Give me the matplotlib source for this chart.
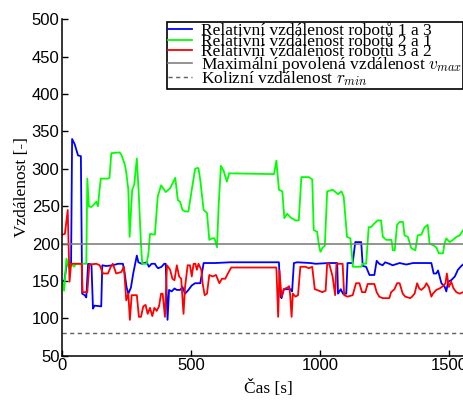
import numpy as np
import matplotlib
matplotlib.use("Agg")
import matplotlib.pyplot as plt

# values
t_13 = [0, 8, 17, 34, 38, 48, 61, 72, 77, 87, 93, 100, 113, 119, 125, 151, 155, 170,
        196, 216, 235, 242, 249, 256, 266, 275, 289, 295, 308, 327, 336, 346, 359,
        366, 372, 385, 395, 401, 408, 414, 424, 435, 444, 457, 466, 476, 489, 502,
        515, 535, 548, 593, 651, 840, 846, 850, 859, 885, 891, 898, 911, 962, 982,
        1034, 1048, 1066, 1069, 1080, 1088, 1101, 1106, 1126, 1136, 1159, 1165,
        1178, 1191, 1210, 1219, 1229, 1242, 1252, 1268, 1281, 1308, 1334, 1360,
        1431, 1440, 1450, 1457, 1470, 1483, 1489, 1496, 1508, 1522, 1534, 1547, 1560]
d_13 = [150, 150, 172, 172, 340, 333, 318, 317, 133, 131, 128, 173, 172, 113, 117, 116,
        171, 170, 171, 173, 173, 160, 142, 133, 141, 160, 184, 175, 173, 175, 169, 173,
        173, 169, 167, 169, 173, 173, 98, 138, 136, 140, 138, 138, 142, 133, 138, 144,
        147, 147, 174, 174, 175, 175, 129, 127, 139, 139, 136, 174, 175, 174, 173,
        174, 174, 174, 133, 139, 133, 133, 174, 174, 202, 202, 170, 169, 158, 158, 177,
        173, 171, 175, 173, 171, 174, 172, 174, 174, 160, 160, 164, 147, 142, 136, 149,
        151, 156, 165, 170, 174]

t_21 = [0, 7, 16, 28, 35, 45, 54, 93, 97, 103, 112, 119, 132, 138, 149, 177, 183, 190,
        222, 229, 243, 248, 256, 261, 271, 279, 289, 297, 305, 310, 327, 334, 340, 359,
        370, 383, 401, 418, 438, 448, 457, 466, 476, 489, 502, 515, 522, 528, 535, 548,
        561, 570, 580, 590, 600, 606, 615, 625, 638, 647, 821, 830, 840, 853, 861, 872,
        885, 904, 917, 927, 956, 969, 975, 988, 995, 1001, 1010, 1018, 1027, 1049,
        1069, 1082, 1091, 1104, 1117, 1127, 1159, 1165, 1178, 1188, 1197, 1210, 1223,
        1236, 1243, 1256, 1276, 1282, 1289, 1298, 1308, 1321, 1327, 1340, 1353, 1369,
        1378, 1392, 1405, 1417, 1424, 1437, 1450, 1460, 1476, 1482, 1489, 1502, 1515,
        1528, 1541, 1554, 1560]
d_21 = [150, 137, 180, 165, 173, 169, 173, 173, 287, 250, 249, 251, 256, 250, 287, 287,
        288, 321, 322, 319, 305, 295, 272, 209, 272, 279, 314, 263, 200, 173, 173, 187,
        213, 212, 263, 278, 269, 274, 288, 258, 256, 245, 243, 243, 272, 300, 301, 301,
        285, 245, 241, 205, 207, 207, 195, 250, 304, 298, 283, 294, 293, 311, 272, 270,
        234, 240, 235, 231, 231, 289, 289, 286, 218, 216, 198, 189, 195, 197, 270, 272,
        266, 270, 263, 209, 207, 169, 169, 173, 173, 222, 222, 227, 231, 231, 209, 205,
        205, 191, 191, 225, 229, 229, 211, 209, 194, 191, 211, 212, 222, 225, 200, 198,
        195, 187, 187, 200, 207, 202, 205, 209, 211, 218, 220]

t_32 = [0, 10, 21, 28, 34, 75, 79, 97, 105, 132, 145, 158, 177, 188, 196, 209, 229, 239,
        248, 256, 262, 269, 289, 297, 305, 314, 323, 331, 340, 349, 357, 366, 375, 383,
        389, 398, 406, 418, 427, 435, 444, 453, 461, 470, 476, 486, 495, 502, 509, 516,
        522, 528, 539, 544, 552, 561, 570, 583, 596, 609, 619, 632, 642, 655, 830, 837,
        842, 850, 859, 872, 880, 884, 889, 894, 904, 914, 923, 943, 956, 969, 979, 995,
        1008, 1021, 1027, 1035, 1048, 1058, 1063, 1087, 1093, 1106, 1126, 1139, 1152,
        1162, 1175, 1184, 1210, 1219, 1229, 1242, 1255, 1268, 1275, 1288, 1298, 1308,
        1320, 1330, 1349, 1356, 1366, 1376, 1384, 1392, 1405, 1412, 1421, 1431, 1437,
        1450, 1463, 1476, 1486, 1491, 1499, 1508, 1517, 1528, 1541, 1560]
d_32 = [212, 213, 245, 149, 173, 173, 135, 135, 172, 173, 171, 160, 160, 169, 173, 160,
        162, 169, 124, 133, 98, 131, 131, 102, 102, 116, 118, 106, 114, 103, 114, 110,
        116, 133, 133, 102, 171, 165, 153, 151, 171, 156, 153, 106, 142, 171, 171, 156,
        173, 173, 165, 173, 165, 147, 131, 133, 158, 156, 158, 147, 153, 153, 160, 168,
        168, 102, 164, 129, 139, 141, 143, 129, 102, 133, 129, 131, 169, 169, 167, 169,
        139, 137, 135, 137, 173, 173, 156, 131, 173, 173, 131, 129, 131, 147, 147, 135,
        135, 146, 146, 135, 129, 127, 127, 127, 135, 139, 147, 147, 133, 129, 127, 129,
        133, 147, 140, 138, 142, 147, 142, 129, 133, 138, 140, 143, 147, 160, 142, 149,
        140, 135, 133, 136]

v_max = 200
r_min = 80

labels = [
    "Relativní vzdálenost robotů 1 a 3",
    "Relativní vzdálenost robotů 2 a 1",
    "Relativní vzdálenost robotů 3 a 2",
    r"Maximální povolená vzdálenost $v_{max}$",
    r"Kolizní vzdálenost $r_{min}$",
]

plt.rcParams["mathtext.fontset"] = "cm"
serif = "Liberation Serif"

fig = plt.figure(figsize=(4.63, 4.01), dpi=100)
W, H = 463, 401
ax = fig.add_axes([62.3 / W, 1 - 355.7 / H, 1600 * 0.2579 / W, 336.3 / H])

ax.plot(t_13, d_13, color=(0, 0, 1), lw=1.3, label=labels[0])
ax.plot(t_21, d_21, color=(0, 1, 0), lw=1.3, label=labels[1])
ax.plot(t_32, d_32, color=(1, 0, 0), lw=1.3, label=labels[2])
ax.axhline(v_max, color="#808080", lw=1.2, label=labels[3])
ax.axhline(r_min, color="#606060", lw=1.0, ls=(0, (3, 2.5)), label=labels[4])

ax.set_xlim(0, 1600)
ax.set_ylim(50, 500)
ax.set_xticks([0, 500, 1000, 1500])
ax.set_yticks(np.arange(50, 501, 50))
ax.tick_params(direction="in", length=4, width=1, pad=2, labelsize=12)
for lab in ax.get_xticklabels() + ax.get_yticklabels():
    lab.set_family("Liberation Sans")
ax.spines["top"].set_visible(False)
ax.spines["right"].set_visible(False)
ax.spines["left"].set_linewidth(1.1)
ax.spines["bottom"].set_linewidth(1.1)

ax.set_xlabel("Čas [s]", family=serif, fontsize=12.5, labelpad=5)
ax.set_ylabel("Vzdálenost [-]", family=serif, fontsize=12.5, labelpad=1)

leg = ax.legend(loc="upper left", bbox_to_anchor=(167 / W, 1 - 22 / H),
                bbox_transform=fig.transFigure, borderaxespad=0, fancybox=False,
                framealpha=1, edgecolor="black", prop={"family": serif, "size": 12.5},
                handlelength=1.4, handletextpad=0.5, labelspacing=-0.32,
                borderpad=0.05)
leg.get_frame().set_linewidth(1.2)

fig.savefig("out.png", dpi=100)
